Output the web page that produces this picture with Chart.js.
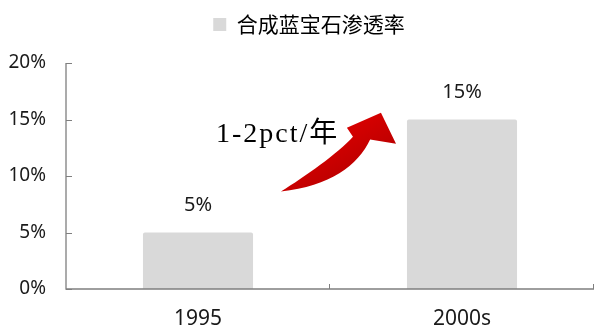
<!DOCTYPE html>
<html>
<head>
<meta charset="utf-8">
<script src="https://cdn.jsdelivr.net/npm/chart.js@4.4.0/dist/chart.umd.min.js"></script>
<style>
  html, body { margin: 0; padding: 0; background: #fff; }
  #wrap { width: 595px; height: 329px; position: relative; }
</style>
</head>
<body>
<div id="wrap"><canvas id="c"></canvas></div>
<script>
// --- data ---
const categories = ['1995', '2000s'];
const seriesName = '合成蓝宝石渗透率';
const penetration = [5, 15];
const yTicks = [0, 5, 10, 15, 20];
const arrowNote = '1-2pct/年';

const barColor = '#d9d9d9';
const axisColor = '#7f7f7f';
const textColor = '#1a1a1a';

// extra room under the legend and a small nudge to the right
const legendSpacer = {
    id: 'legendSpacer',
    beforeInit(chart) {
        const origFit = chart.legend.fit;
        chart.legend.fit = function () {
            origFit.call(this);
            this.height += 18;
        };
    },
    afterLayout(chart) {
        chart.legend.left += 12;
        chart.legend.right += 12;
    }
};

// draws axis lines + inward tick marks, value labels, and the red arrow note
const decorPlugin = {
    id: 'decor',
    afterDatasetsDraw(chart) {
        const ctx = chart.ctx;
        const x = chart.scales.x, y = chart.scales.y;
        const area = chart.chartArea;

        ctx.save();
        ctx.strokeStyle = axisColor;
        ctx.lineWidth = 1.3;
        ctx.beginPath();
        ctx.moveTo(area.left, area.top);
        ctx.lineTo(area.left, area.bottom);
        ctx.lineTo(area.right, area.bottom);
        ctx.stroke();

        ctx.lineWidth = 1;
        ctx.beginPath();
        yTicks.forEach(v => {
            const py = Math.round(y.getPixelForValue(v)) + 0.5;
            ctx.moveTo(area.left, py);
            ctx.lineTo(area.left + 6, py);
        });
        // category boundaries on the x axis
        const step = (area.right - area.left) / categories.length;
        for (let i = 1; i <= categories.length; i++) {
            const px = Math.round(area.left + step * i) - 0.5;
            ctx.moveTo(px, area.bottom);
            ctx.lineTo(px, area.bottom - 5);
        }
        ctx.stroke();

        // value labels
        const meta = chart.getDatasetMeta(0);
        ctx.fillStyle = textColor;
        ctx.font = '20px "Noto Sans", sans-serif';
        ctx.textAlign = 'center';
        ctx.textBaseline = 'bottom';
        meta.data.forEach((bar, i) => {
            ctx.fillText(penetration[i] + '%', bar.x, bar.y - 17);
        });

        // curved arrow, placed relative to the two category centres
        const c0 = x.getPixelForValue(0), c1 = x.getPixelForValue(1);
        const fx = f => c0 + f * (c1 - c0);
        const fy = v => y.getPixelForValue(v);
        const P = (f, v) => [fx(f), fy(v)];

        const tail = P(0.314, 8.63);
        const lowA = P(0.50, 9.07), lowB = P(0.606, 10.93), low = P(0.652, 13.22);
        const rBarb = P(0.75, 12.86);
        const tip = P(0.693, 15.59);
        const lBarb = P(0.564, 14.27);
        const up = P(0.587, 13.48);
        const upA = P(0.53, 12.0), upB = P(0.405, 9.95);

        const grad = ctx.createLinearGradient(fx(0.5), fy(13), fx(0.6), fy(9));
        grad.addColorStop(0, '#d40000');
        grad.addColorStop(0.6, '#c00000');
        grad.addColorStop(1, '#8a0000');
        ctx.fillStyle = grad;
        ctx.beginPath();
        ctx.moveTo(...tail);
        ctx.bezierCurveTo(...lowA, ...lowB, ...low);
        ctx.lineTo(...rBarb);
        ctx.lineTo(...tip);
        ctx.lineTo(...lBarb);
        ctx.lineTo(...up);
        ctx.bezierCurveTo(...upA, ...upB, ...tail);
        ctx.closePath();
        ctx.fill();

        // note text
        ctx.fillStyle = '#000';
        ctx.font = '28px "Liberation Serif", "Noto Sans CJK SC", serif';
        ctx.letterSpacing = '2px';
        ctx.textAlign = 'left';
        ctx.textBaseline = 'alphabetic';
        ctx.fillText(arrowNote, fx(0.068), fy(13.04));
        ctx.restore();
    }
};

const ctx = document.getElementById('c').getContext('2d');
new Chart(ctx, {
    type: 'bar',
    data: {
        labels: categories,
        datasets: [{
            label: seriesName,
            data: penetration,
            backgroundColor: barColor,
            borderRadius: { topLeft: 2, topRight: 2 },
            borderSkipped: 'bottom',
            barPercentage: 0.417,
            categoryPercentage: 1.0
        }]
    },
    options: {
        responsive: true,
        maintainAspectRatio: false,
        animation: false,
        layout: { padding: { top: 0, right: 1, left: 0, bottom: 0 } },
        plugins: {
            legend: {
                position: 'top',
                labels: {
                    boxWidth: 13,
                    boxHeight: 13,
                    color: '#000',
                    padding: 14,
                    font: { size: 21, family: '"Noto Sans CJK SC", sans-serif' }
                }
            },
            tooltip: { enabled: false }
        },
        scales: {
            x: {
                grid: { display: false, drawTicks: false },
                border: { display: false },
                ticks: {
                    color: textColor,
                    padding: 17,
                    font: { size: 21, family: '"Noto Sans", sans-serif' }
                },
                afterFit(scale) { scale.height = 40; }
            },
            y: {
                min: 0,
                max: 20,
                grid: { display: false, drawTicks: false },
                border: { display: false },
                ticks: {
                    stepSize: 5,
                    color: textColor,
                    padding: 20,
                    font: { size: 19, family: '"Noto Sans", sans-serif' },
                    callback: v => v + '%'
                },
                afterFit(scale) { scale.width = 66; }
            }
        }
    },
    plugins: [legendSpacer, decorPlugin]
});
</script>
</body>
</html>
